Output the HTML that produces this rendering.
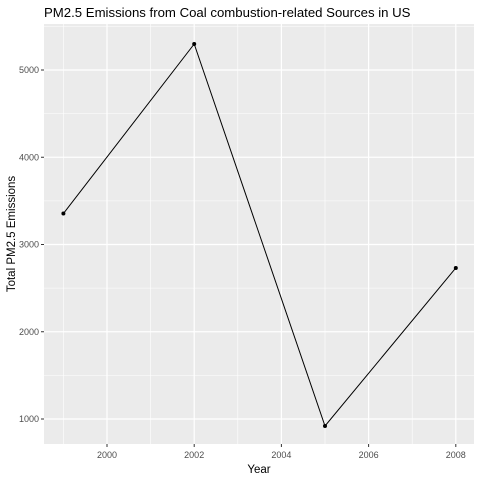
<!DOCTYPE html>
<html><head><meta charset="utf-8"><style>
body{margin:0;background:#fff;font-family:"Liberation Sans",sans-serif}
</style></head><body>
<svg width="480" height="480" xmlns="http://www.w3.org/2000/svg">
<text x="44" y="17" font-size="13.2" fill="#000">PM2.5 Emissions from Coal combustion-related Sources in US</text>
<rect x="44" y="24" width="430" height="420" fill="#ebebeb"/>
<g id="grid"></g>
<g id="axes"></g>
<g id="marks"></g>
<text x="259" y="473" font-size="11.5" text-anchor="middle" fill="#000">Year</text>
<text transform="translate(15,234) rotate(-90)" font-size="11.5" text-anchor="middle" fill="#000">Total PM2.5 Emissions</text>
</svg>
<script>
const years=[1999,2002,2005,2008];
const emissions=[3355,5298,920,2731];
const xTicks=[2000,2002,2004,2006,2008];
const yTicks=[1000,2000,3000,4000,5000];
const NS="http://www.w3.org/2000/svg";
const X=v=>107+(v-2000)*43.6;
const Y=v=>419-(v-1000)*0.08725;
function mk(tag,attrs,parent){const e=document.createElementNS(NS,tag);for(const k in attrs)e.setAttribute(k,attrs[k]);document.getElementById(parent).appendChild(e);return e;}
const L=44,R=474,T=24,B=444;
for(let i=0;i<xTicks.length+1;i++){const v=xTicks[0]-1+2*i;const x=X(v);if(x>L&&x<R){const e=mk('line',{x1:x,x2:x,y1:T,y2:B,stroke:'#fff','stroke-width':0.6},'grid');

}}
for(let i=0;i<yTicks.length+1;i++){const v=yTicks[0]-500+1000*i;const y=Y(v);if(y>T&&y<B){const e=mk('line',{x1:L,x2:R,y1:y,y2:y,stroke:'#fff','stroke-width':0.6},'grid');

}}
xTicks.forEach(v=>{const x=X(v);
const g=mk('line',{x1:x,x2:x,y1:T,y2:B,stroke:'#fff','stroke-width':1.2},'grid');


mk('line',{x1:x,x2:x,y1:B,y2:B+3,stroke:'#333'},'axes');
const t=mk('text',{x:x,y:B+14,'font-size':9,'text-anchor':'middle',fill:'#4d4d4d'},'axes');t.textContent=v;

});
yTicks.forEach(v=>{const y=Y(v);
const g=mk('line',{x1:L,x2:R,y1:y,y2:y,stroke:'#fff','stroke-width':1.2},'grid');


mk('line',{x1:L-3,x2:L,y1:y,y2:y,stroke:'#333'},'axes');
const t=mk('text',{x:L-5,y:y+3,'font-size':9,'text-anchor':'end',fill:'#4d4d4d'},'axes');t.textContent=v;

});
const line=mk('polyline',{points:years.map((y,i)=>X(y)+','+Y(emissions[i])).join(' '),fill:'none',stroke:'#000','stroke-width':1},'marks');


years.forEach((y,i)=>{const c=mk('circle',{cx:X(y),cy:Y(emissions[i]),r:2,fill:'#000'},'marks');

});
</script>
</body></html>
